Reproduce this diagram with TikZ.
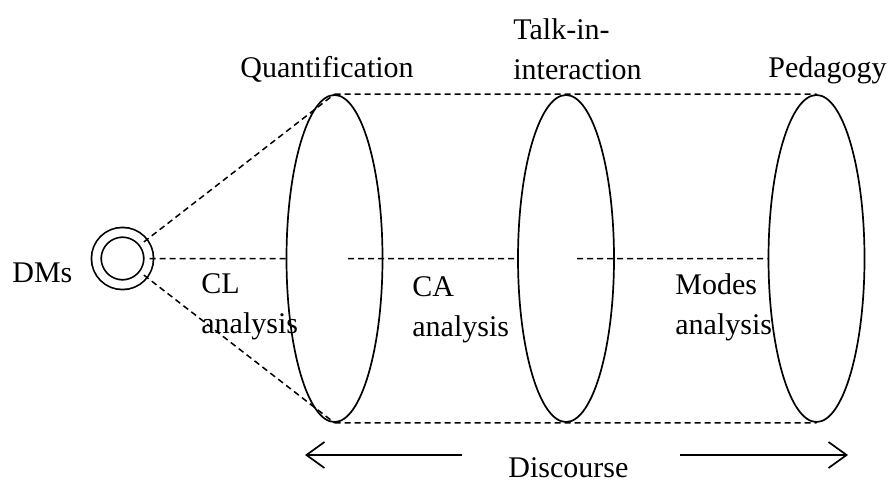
\documentclass[tikz,border=0pt]{standalone}
\usepackage{fontspec}
\setmainfont{Liberation Serif}
\usepackage{tikz}
\usetikzlibrary{shapes.geometric}
\usetikzlibrary{arrows.meta}
\newcommand{\lenswidth}{48pt}
\newcommand{\lensheight}{163.5pt}
\tikzset{
    lens/.style={draw, ellipse, line width=0.85pt, minimum width=\lenswidth, minimum height=\lensheight, inner sep=0pt},
    source/.style={draw, circle, double, double distance=4pt, line width=0.85pt, minimum size=26.2pt, inner sep=0pt},
    link/.style={dash pattern=on 3pt off 2pt, line width=0.75pt},
    caption/.style={anchor=base west, inner sep=0pt, align=left, font=\fontsize{15}{20}\selectfont},
    span/.style={-{Straight Barb[length=9pt, width=13pt]}, line width=0.85pt}
}

\begin{document}
\begin{tikzpicture}[x=0.5pt, y=-0.5pt]
    \useasboundingbox (0,0) rectangle (893,481);

    % the source and the three lenses
    \node[source] (dms) at (122.5,258.5) {};
    \node[lens] (quant) at (334.5,258.5) {};
    \node[lens] (talk) at (566,258.5) {};
    \node[lens] (peda) at (816.5,258.5) {};

    % where the hidden middle line comes out again
    \coordinate (quant-out) at (348,258.5);
    \coordinate (talk-out) at (577,258.5);
    \coordinate (disc-left-start) at (462,455);
    \coordinate (disc-left-end) at (305,455);
    \coordinate (disc-right-start) at (680,455);
    \coordinate (disc-right-end) at (848,455);

    % labels (two-line nodes sit on their last line)
    \node[caption] (dms-label) at (12,282) {DMs};
    \node[caption] (quant-label) at (240,78) {Quantification};
    \node[caption] (talk-label) at (513,80) {Talk-in-\\interaction};
    \node[caption] (peda-label) at (768,78) {Pedagogy};
    \node[caption] (cl-label) at (201,333) {CL\\analysis};
    \node[caption] (ca-label) at (412,336) {CA\\analysis};
    \node[caption] (modes-label) at (675,334) {Modes\\analysis};
    \node[caption] (disc-label) at (508,477) {Discourse};

    \draw[link]
      (dms) -- (quant.north)
      (dms) -- (quant.south)
      (dms) -- (quant.west)
      (quant.north) -- (peda.north)
      (quant.south) -- (peda.south)
      (quant-out) -- (talk.west)
      (talk-out) -- (peda.west);

    \draw[span] (disc-left-start) -- (disc-left-end);
    \draw[span] (disc-right-start) -- (disc-right-end);
\end{tikzpicture}
\end{document}
